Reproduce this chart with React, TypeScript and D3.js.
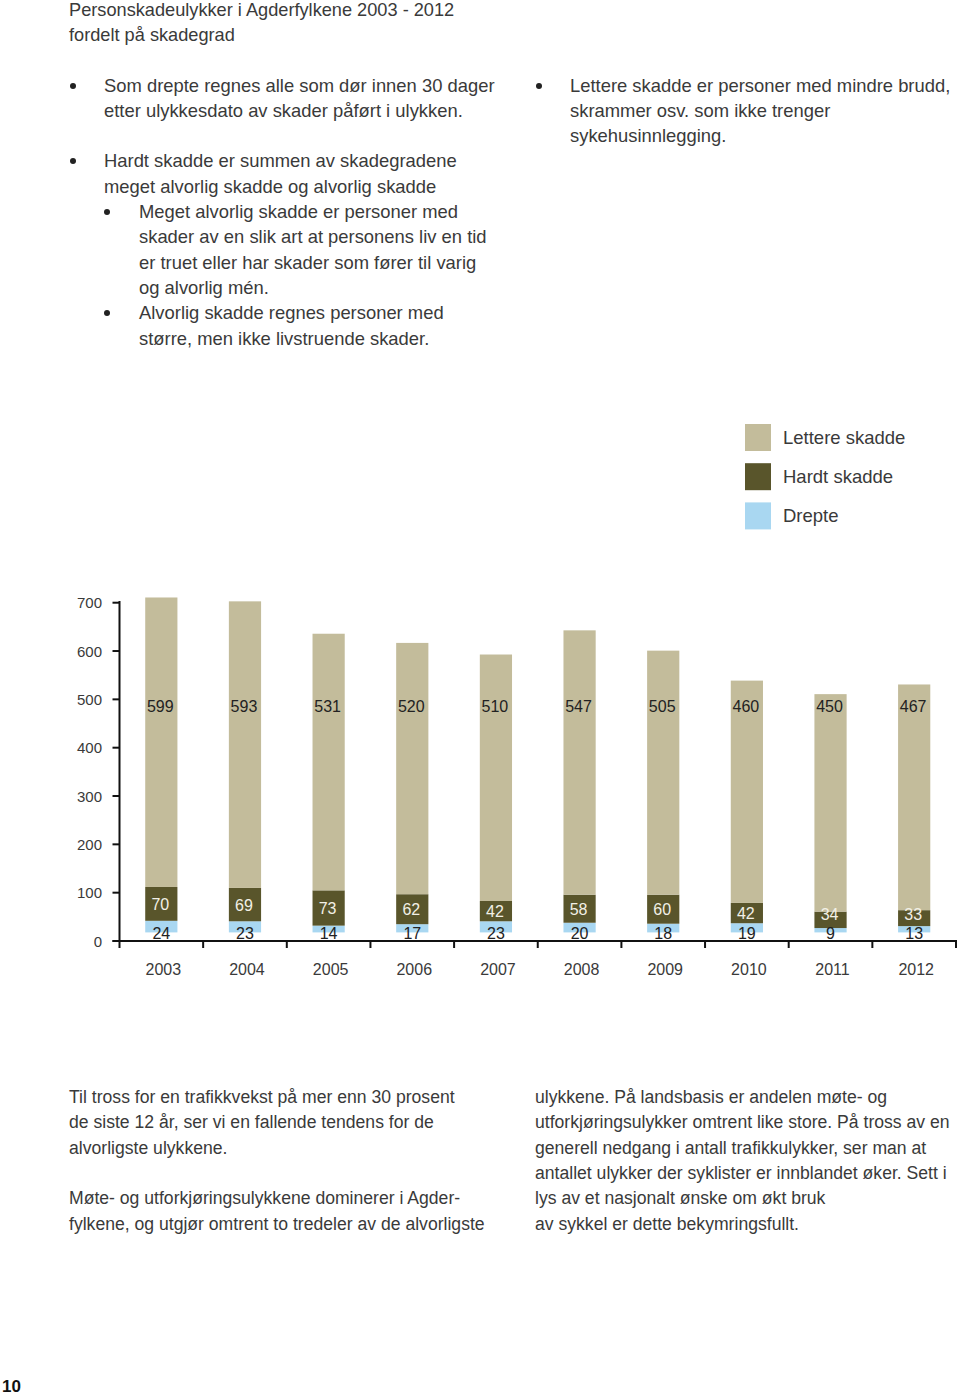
import React from "react";
import * as d3 from "d3";

const years = ["2003", "2004", "2005", "2006", "2007", "2008", "2009", "2010", "2011", "2012"];
const lettere = [599, 593, 531, 520, 510, 547, 505, 460, 450, 467];
const hardt = [70, 69, 73, 62, 42, 58, 60, 42, 34, 33];
const drepte = [24, 23, 14, 17, 23, 20, 18, 19, 9, 13];
const yTicks = [0, 100, 200, 300, 400, 500, 600, 700];

const seriesNames = ["Lettere skadde", "Hardt skadde", "Drepte"];
const colors = { lettere: "#c3bc9b", hardt: "#59552b", drepte: "#a9d7f1" };

const titleLines = ["Personskadeulykker i Agderfylkene 2003 - 2012", "fordelt på skadegrad"];

const FONT = "'Liberation Sans', Arial, sans-serif";
const TXT = "#3a3a3a";

type Line = { text: string; x: number; y: number; bullet?: number };

const leftBullets: Line[] = [
  { text: "Som drepte regnes alle som dør innen 30 dager", x: 104, y: 92, bullet: 73 },
  { text: "etter ulykkesdato av skader påført i ulykken.", x: 104, y: 117 },
  { text: "Hardt skadde er summen av skadegradene", x: 104, y: 167, bullet: 73 },
  { text: "meget alvorlig skadde og alvorlig skadde", x: 104, y: 193 },
  { text: "Meget alvorlig skadde er personer med", x: 139, y: 218, bullet: 107 },
  { text: "skader av en slik art at personens liv en tid", x: 139, y: 243 },
  { text: "er truet eller har skader som fører til varig", x: 139, y: 269 },
  { text: "og alvorlig mén.", x: 139, y: 294 },
  { text: "Alvorlig skadde regnes personer med", x: 139, y: 319, bullet: 107 },
  { text: "større, men ikke livstruende skader.", x: 139, y: 345 },
];

const rightBullets: Line[] = [
  { text: "Lettere skadde er personer med mindre brudd,", x: 570, y: 92, bullet: 539 },
  { text: "skrammer osv. som ikke trenger", x: 570, y: 117 },
  { text: "sykehusinnlegging.", x: 570, y: 142 },
];

const bottomLeft = [
  "Til tross for en trafikkvekst på mer enn 30 prosent",
  "de siste 12 år, ser vi en fallende tendens for de",
  "alvorligste ulykkene.",
  "",
  "Møte- og utforkjøringsulykkene dominerer i Agder-",
  "fylkene, og utgjør omtrent to tredeler av de alvorligste",
];
const bottomRight = [
  "ulykkene. På landsbasis er andelen møte- og",
  "utforkjøringsulykker omtrent like store. På tross av en",
  "generell nedgang i antall trafikkulykker, ser man at",
  "antallet ulykker der syklister er innblandet øker. Sett i",
  "lys av et nasjonalt ønske om økt bruk",
  "av sykkel er dette bekymringsfullt.",
];

export default function App() {
  const W = 960, H = 1397;
  const x = d3.scaleBand<string>().domain(years).range([119.5, 956]).padding(0);
  const y = d3.scaleLinear().domain([0, 700]).range([941, 602.7]);
  const barW = x.bandwidth() * 0.385;
  const lift = 8.6; // bars sit slightly above the axis line
  const base = y(0) - lift;
  const h = (v: number) => y(0) - y(v);

  const legendItems = [
    { name: seriesNames[0], color: colors.lettere },
    { name: seriesNames[1], color: colors.hardt },
    { name: seriesNames[2], color: colors.drepte },
  ];

  const topText = { fontFamily: FONT, fontSize: 18.4, fill: TXT };
  const bottomText = { fontFamily: FONT, fontSize: 17.6, fill: TXT };

  return (
    <svg width={W} height={H} style={{ position: "absolute", left: 0, top: 0 }}>
      <rect width={W} height={H} fill="#fff" />
      {titleLines.map((t, i) => (
        <text key={t} x={69} y={16 + i * 25.3} {...topText} fontSize={18.2}>{t}</text>
      ))}
      {[...leftBullets, ...rightBullets].map((l, i) => (
        <g key={i}>
          {l.bullet !== undefined && <circle cx={l.bullet} cy={l.y - 6} r={3} fill="#222" />}
          <text x={l.x} y={l.y} {...topText}>{l.text}</text>
        </g>
      ))}

      {/* legend */}
      {legendItems.map((d, i) => (
        <g key={d.name} transform={`translate(745, ${424 + i * 39.2})`}>
          <rect width={26} height={27} fill={d.color} />
          <text x={38} y={20} {...topText} fontSize={18.5}>{d.name}</text>
        </g>
      ))}

      {/* bars */}
      {years.map((yr, i) => {
        const cx = (x(yr) as number) + x.bandwidth() / 2;
        const x0 = cx - barW / 2;
        const dTop = base - h(drepte[i]);
        const hTop = dTop - h(hardt[i]);
        const lTop = hTop - h(lettere[i]);
        const hardLabelY = Math.min((hTop + dTop) / 2, y(56));
        return (
          <g key={yr}>
            <rect x={x0} y={dTop} width={barW} height={h(drepte[i])} fill={colors.drepte} />
            <rect x={x0} y={hTop} width={barW} height={h(hardt[i])} fill={colors.hardt} />
            <rect x={x0} y={lTop} width={barW} height={h(lettere[i])} fill={colors.lettere} />
            <text x={cx - 1} y={y(500) + 12.5} textAnchor="middle" fontFamily={FONT} fontSize={16} fill="#222">{lettere[i]}</text>
            <text x={cx - 1} y={hardLabelY + 6} textAnchor="middle" fontFamily={FONT} fontSize={16} fill="#f2f0e6">{hardt[i]}</text>
            <text x={cx} y={y(0) - 2} textAnchor="middle" fontFamily={FONT} fontSize={16} fill="#222">{drepte[i]}</text>
            <text x={cx + 2} y={975} textAnchor="middle" fontFamily={FONT} fontSize={16} fill={TXT}>{yr}</text>
          </g>
        );
      })}

      {/* axes */}
      <line x1={119.5} x2={119.5} y1={601} y2={941} stroke="#111" strokeWidth={2} />
      <line x1={112.5} x2={957} y1={941} y2={941} stroke="#111" strokeWidth={2} />
      {yTicks.map((t) => (
        <g key={t}>
          <line x1={112.5} x2={119.5} y1={y(t)} y2={y(t)} stroke="#111" strokeWidth={2} />
          <text x={102} y={y(t) + 5.5} textAnchor="end" fontFamily={FONT} fontSize={15} fill={TXT}>{t}</text>
        </g>
      ))}
      {[...years.map((yr) => x(yr) as number), 956].map((px, i) => (
        <line key={i} x1={px} x2={px} y1={941} y2={948} stroke="#111" strokeWidth={2} />
      ))}

      {/* bottom text */}
      {bottomLeft.map((t, i) => t && (
        <text key={"bl" + i} x={69} y={1103 + i * 25.3} {...bottomText}>{t}</text>
      ))}
      {bottomRight.map((t, i) => (
        <text key={"br" + i} x={535} y={1103 + i * 25.3} {...bottomText}>{t}</text>
      ))}

      <text x={2} y={1392} fontFamily={FONT} fontSize={17} fontWeight="bold" fill="#111">10</text>
    </svg>
  );
}
